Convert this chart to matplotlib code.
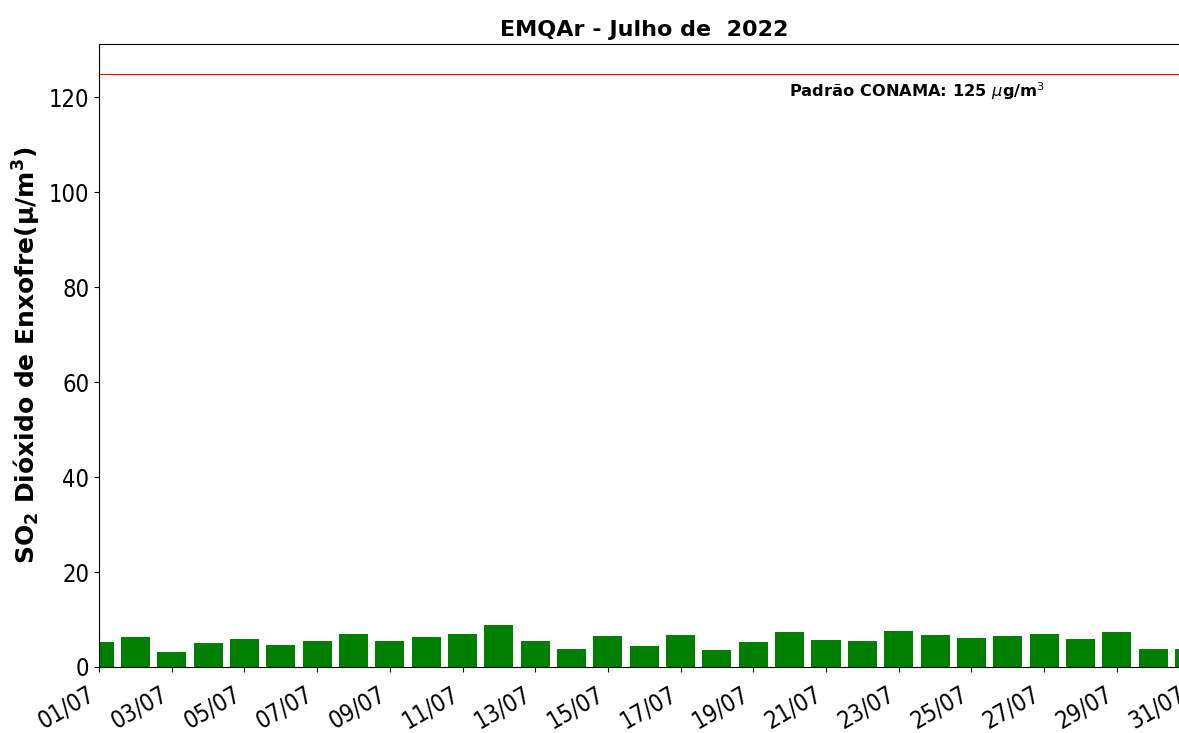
import numpy as np
import pandas as pd
import matplotlib
matplotlib.use("Agg")
from matplotlib import pyplot as plt
import matplotlib.dates as mdates

# dados diarios de SO2 - julho 2022
dias = pd.date_range("2022-07-01", "2022-07-31", freq="D")
so2 = [5.35, 6.27, 3.24, 5.0, 5.9, 4.65, 5.56, 6.97, 5.56, 6.4,
       6.9, 8.87, 5.56, 3.8, 6.48, 4.44, 6.69, 3.52, 5.28, 7.46,
       5.77, 5.49, 7.6, 6.83, 6.13, 6.55, 7.04, 5.99, 7.46, 3.73,
       3.73]
padrao = 125
titulo = "EMQAr - Julho de  2022"

fig = plt.figure(figsize=(11.79, 7.33), dpi=100)
ax = fig.add_axes([99 / 1179, 66 / 733, 1090.5 / 1179, 623 / 733])

ax.bar(dias, so2, width=0.8, color="green", edgecolor="none")
ax.axhline(padrao, color="red", linewidth=0.8)
ax.text(dias[0] + pd.Timedelta(days=22.5), 121.3,
        r"Padrão CONAMA: 125 $\mu$g/m$^3$", fontsize=11.7, fontweight="bold",
        ha="center", va="center")

ax.set_xlim(dias[0], dias[-1])
ax.set_ylim(0, padrao * 1.05)
ax.set_yticks([0, 20, 40, 60, 80, 100, 120])
ax.xaxis.set_major_locator(mdates.DayLocator(interval=2))
ax.xaxis.set_major_formatter(mdates.DateFormatter("%d/%m"))
ax.tick_params(axis="x", pad=7)
plt.setp(ax.get_xticklabels(), rotation=30, ha="right")
for lbl in ax.get_xticklabels() + ax.get_yticklabels():
    lbl.set_fontsize(17)
    lbl.set_fontstretch("condensed")

ax.set_title(titulo, fontsize=16, fontweight="bold")
ax.set_ylabel(r"SO$_\mathbf{2}$ Dióxido de Enxofre($\mathbf{\mu/m^3}$)",
              fontsize=18, fontweight="bold")

fig.savefig("out.png", dpi=100)
